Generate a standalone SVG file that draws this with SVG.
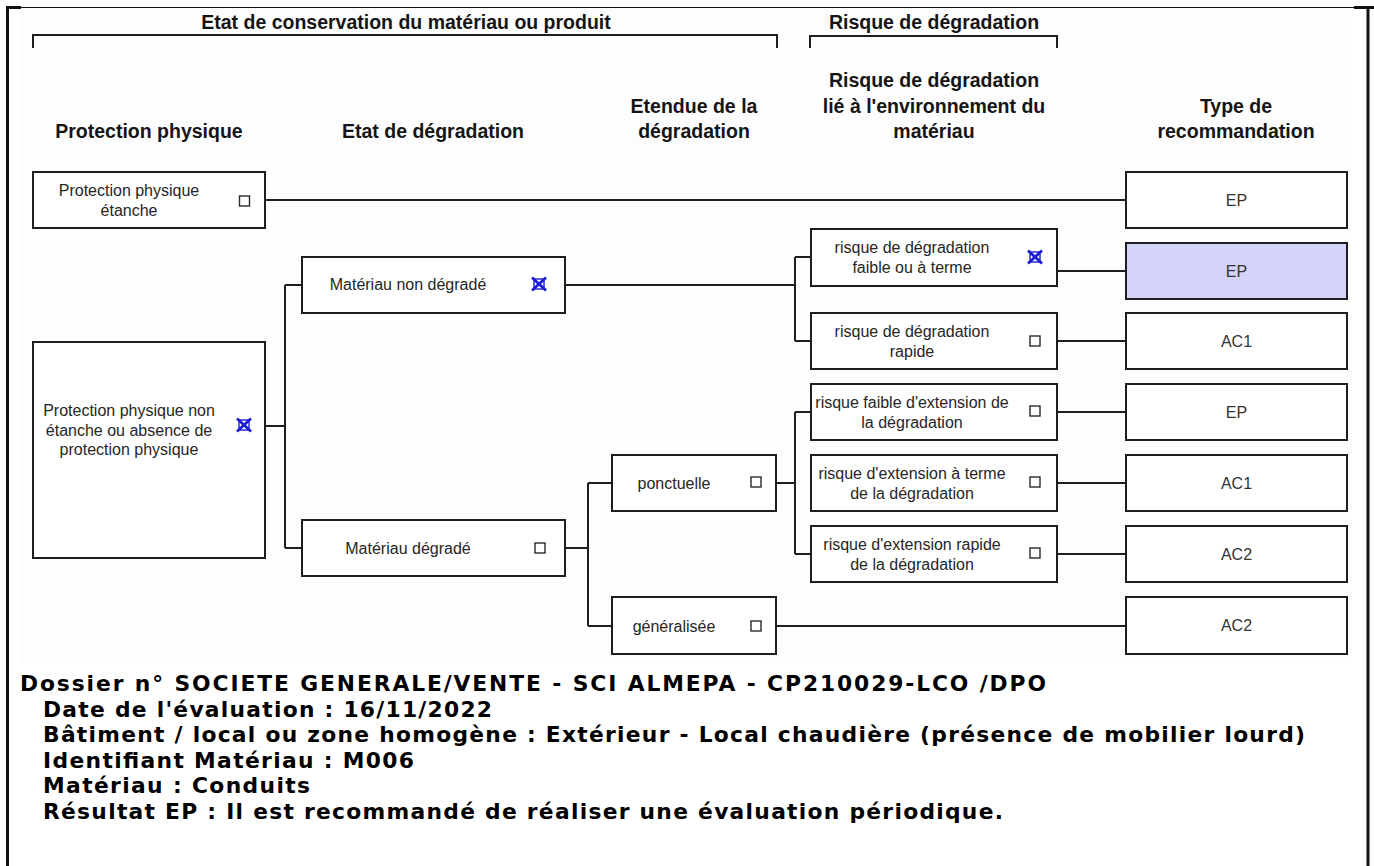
<svg xmlns="http://www.w3.org/2000/svg" xmlns:xlink="http://www.w3.org/1999/xlink" width="1374" height="866" viewBox="0 0 1374 866">
  <style>
    .frame { stroke: #111; fill: none; }
    .head { font-family: "Liberation Sans", Arial, sans-serif; font-weight: bold; font-size: 19.5px; fill: #151515; text-anchor: middle; }
    .node rect.box { fill: #fff; stroke: #1e1e1e; stroke-width: 2; }
    .node text { font-family: "Liberation Sans", Arial, sans-serif; font-size: 16px; fill: #262626; text-anchor: middle; }
    .rec rect.box { fill: #fff; stroke: #1e1e1e; stroke-width: 2; }
    .rec.sel rect.box { fill: #d4d4f8; }
    .rec text { font-family: "Liberation Sans", Arial, sans-serif; font-size: 16px; fill: #333; text-anchor: middle; }
    .wire { stroke: #1e1e1e; stroke-width: 2; fill: none; }
    .bracket { stroke: #1e1e1e; stroke-width: 2; fill: none; }
    .foot { font-family: "DejaVu Sans", Verdana, sans-serif; font-weight: bold; font-size: 21.8px; fill: #000; }
  </style>
  <defs>
    <g id="cb">
      <rect x="-5" y="-5" width="10" height="10" fill="#fff" stroke="#2a2a2a" stroke-width="1.4"/>
    </g>
    <g id="cbx">
      <rect x="-5" y="-5" width="10" height="10" fill="none" stroke="#1c1cd0" stroke-width="1.4"/>
      <path d="M-7,-6.5 L7,6.5 M7,-6.5 L-7,6.5" stroke="#1c1cd0" stroke-width="2.8" fill="none"/>
    </g>
  </defs>

  <rect width="1374" height="866" fill="#fff"/>
  <!-- light backdrop of the decision chart -->
  <rect x="20" y="8" width="1332" height="656" fill="#fdfdfd"/>

  <!-- outer frame -->
  <g id="frame" class="frame">
    <line x1="21" y1="7.5" x2="1354" y2="7.5" stroke-width="1.2"/>
    <line x1="6" y1="7.5" x2="21" y2="7.5" stroke-width="3"/>
    <line x1="1354" y1="7.5" x2="1374" y2="7.5" stroke-width="3"/>
    <line x1="7.5" y1="6" x2="7.5" y2="866" stroke-width="3"/>
    <line x1="1368" y1="6" x2="1368" y2="866" stroke-width="3"/>
  </g>

  <!-- group headings -->
  <g id="headings">
    <text class="head" x="406" y="29">Etat de conservation du matériau ou produit</text>
    <path class="bracket" d="M33,48 V35 H777 V48"/>
    <text class="head" x="934" y="29">Risque de dégradation</text>
    <path class="bracket" d="M810,48 V36 H1057 V48"/>

    <text class="head" x="149" y="138">Protection physique</text>
    <text class="head" x="433" y="138">Etat de dégradation</text>
    <text class="head" x="694" y="112.5">Etendue de la</text>
    <text class="head" x="694" y="138">dégradation</text>
    <text class="head" x="934" y="87">Risque de dégradation</text>
    <text class="head" x="934" y="112.5">lié à l'environnement du</text>
    <text class="head" x="934" y="138">matériau</text>
    <text class="head" x="1236" y="112.5">Type de</text>
    <text class="head" x="1236" y="138">recommandation</text>
  </g>

  <!-- connectors -->
  <g id="connectors" class="wire">
    <line x1="265" y1="200" x2="1126" y2="200"/>
    <path d="M265,426 H285 M285,285 V548 M285,285 H302 M285,548 H302"/>
    <path d="M565,285 H795 M795,257 V341 M795,257 H811 M795,341 H811"/>
    <path d="M565,548 H588 M588,483 V626 M588,483 H612 M588,626 H612"/>
    <path d="M776,483 H795 M795,412 V554 M795,412 H811 M795,554 H811"/>
    <line x1="776" y1="626" x2="1126" y2="626"/>
    <line x1="1057" y1="271" x2="1126" y2="271"/>
    <line x1="1057" y1="341" x2="1126" y2="341"/>
    <line x1="1057" y1="412" x2="1126" y2="412"/>
    <line x1="1057" y1="483" x2="1126" y2="483"/>
    <line x1="1057" y1="554" x2="1126" y2="554"/>
  </g>

  <!-- physical protection -->
  <g id="pp-etanche" class="node">
    <rect class="box" x="33" y="172" width="232" height="56"/>
    <text x="129" y="195.5">Protection physique</text>
    <text x="129" y="215.5">étanche</text>
    <use xlink:href="#cb" x="244.5" y="201"/>
  </g>
  <g id="pp-non-etanche" class="node">
    <rect class="box" x="33" y="342" width="232" height="216"/>
    <text x="129" y="415.5">Protection physique non</text>
    <text x="129" y="435.5">étanche ou absence de</text>
    <text x="129" y="455">protection physique</text>
    <use xlink:href="#cbx" x="244" y="425"/>
  </g>

  <!-- state of degradation -->
  <g id="mat-non-degrade" class="node">
    <rect class="box" x="302" y="257" width="263" height="56"/>
    <text x="408" y="290">Matériau non dégradé</text>
    <use xlink:href="#cbx" x="539" y="284"/>
  </g>
  <g id="mat-degrade" class="node">
    <rect class="box" x="302" y="520" width="263" height="56"/>
    <text x="408" y="554">Matériau dégradé</text>
    <use xlink:href="#cb" x="540" y="548"/>
  </g>

  <!-- extent of degradation -->
  <g id="ponctuelle" class="node">
    <rect class="box" x="612" y="455" width="164" height="56"/>
    <text x="674" y="488.5">ponctuelle</text>
    <use xlink:href="#cb" x="756" y="482"/>
  </g>
  <g id="generalisee" class="node">
    <rect class="box" x="612" y="597" width="164" height="57"/>
    <text x="674" y="631.5">généralisée</text>
    <use xlink:href="#cb" x="756" y="626"/>
  </g>

  <!-- environment-related risk -->
  <g id="risque-faible" class="node">
    <rect class="box" x="811" y="229" width="246" height="57"/>
    <text x="912" y="253">risque de dégradation</text>
    <text x="912" y="273">faible ou à terme</text>
    <use xlink:href="#cbx" x="1035" y="257"/>
  </g>
  <g id="risque-rapide" class="node">
    <rect class="box" x="811" y="313" width="246" height="56"/>
    <text x="912" y="336.5">risque de dégradation</text>
    <text x="912" y="356.5">rapide</text>
    <use xlink:href="#cb" x="1035" y="341"/>
  </g>
  <g id="ext-faible" class="node">
    <rect class="box" x="811" y="384" width="246" height="56"/>
    <text x="912" y="407.5">risque faible d'extension de</text>
    <text x="912" y="427.5">la dégradation</text>
    <use xlink:href="#cb" x="1035" y="411"/>
  </g>
  <g id="ext-terme" class="node">
    <rect class="box" x="811" y="455" width="246" height="56"/>
    <text x="912" y="478.5">risque d'extension à terme</text>
    <text x="912" y="498.5">de la dégradation</text>
    <use xlink:href="#cb" x="1035" y="482"/>
  </g>
  <g id="ext-rapide" class="node">
    <rect class="box" x="811" y="526" width="246" height="56"/>
    <text x="912" y="549.5">risque d'extension rapide</text>
    <text x="912" y="569.5">de la dégradation</text>
    <use xlink:href="#cb" x="1035" y="553"/>
  </g>

  <!-- recommendation type -->
  <g id="rec-1" class="rec">
    <rect class="box" x="1126" y="172" width="221" height="56"/>
    <text x="1236.5" y="205.5">EP</text>
  </g>
  <g id="rec-2" class="rec sel">
    <rect class="box" x="1126" y="243" width="221" height="56"/>
    <text x="1236.5" y="276.5">EP</text>
  </g>
  <g id="rec-3" class="rec">
    <rect class="box" x="1126" y="313" width="221" height="56"/>
    <text x="1236.5" y="346.5">AC1</text>
  </g>
  <g id="rec-4" class="rec">
    <rect class="box" x="1126" y="384" width="221" height="56"/>
    <text x="1236.5" y="417.5">EP</text>
  </g>
  <g id="rec-5" class="rec">
    <rect class="box" x="1126" y="455" width="221" height="56"/>
    <text x="1236.5" y="488.5">AC1</text>
  </g>
  <g id="rec-6" class="rec">
    <rect class="box" x="1126" y="526" width="221" height="56"/>
    <text x="1236.5" y="559.5">AC2</text>
  </g>
  <g id="rec-7" class="rec">
    <rect class="box" x="1126" y="597" width="221" height="57"/>
    <text x="1236.5" y="631">AC2</text>
  </g>

  <!-- file details -->
  <g id="details">
    <text class="foot" x="20" y="691" textLength="1026" lengthAdjust="spacing">Dossier n° SOCIETE GENERALE/VENTE - SCI ALMEPA - CP210029-LCO /DPO</text>
    <text class="foot" x="43" y="716.6" textLength="449" lengthAdjust="spacing">Date de l'évaluation : 16/11/2022</text>
    <text class="foot" x="43" y="742.2" textLength="1262" lengthAdjust="spacing">Bâtiment / local ou zone homogène : Extérieur - Local chaudière (présence de mobilier lourd)</text>
    <text class="foot" x="43" y="767.8" textLength="371" lengthAdjust="spacing">Identifiant Matériau : M006</text>
    <text class="foot" x="43" y="793.4" textLength="267" lengthAdjust="spacing">Matériau : Conduits</text>
    <text class="foot" x="43" y="819" textLength="960" lengthAdjust="spacing">Résultat EP : Il est recommandé de réaliser une évaluation périodique.</text>
  </g>
</svg>
